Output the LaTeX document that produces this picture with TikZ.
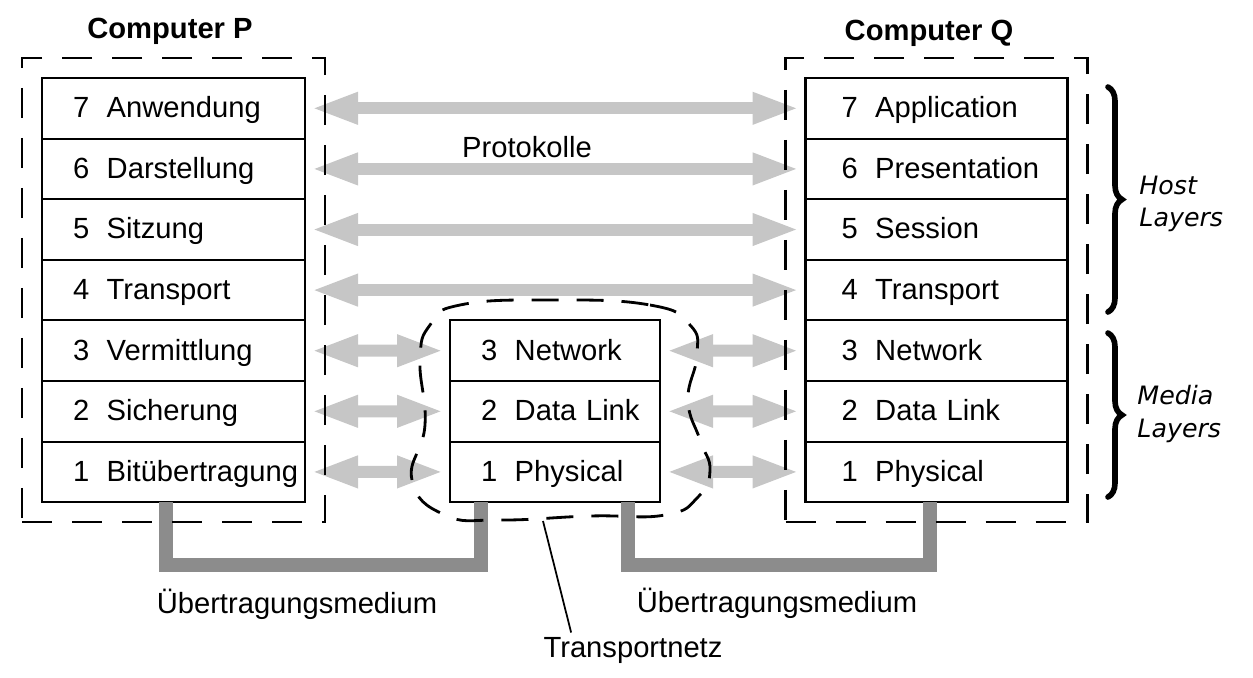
\documentclass[tikz,border=0pt]{standalone}
\usepackage{fontspec}
\setmainfont{Liberation Sans}
\newfontfamily\hostfont{DejaVu Sans}
\usetikzlibrary{positioning, fit, arrows.meta, decorations.pathreplacing}
\tikzset{layer/.style={draw, line width=0.6pt, outer sep=0pt, minimum height=0.606cm, text width=#1, align=left, inner xsep=0.31cm, text height=0.75em, text depth=0.22em, font=\fontsize{8.3}{10}\selectfont}}
\tikzset{qlayer/.style={layer=#1, inner xsep=0.36cm}}
\tikzset{protocol/.style={{Triangle[length=0.47cm, width=0.29cm]}-{Triangle[length=0.47cm, width=0.29cm]}, line width=0.12cm, draw=gray!45, shorten <=0.06cm, shorten >=0.06cm}}
\tikzset{medium/.style={line width=0.14cm, draw=black!45}}
\tikzset{compbox/.style={draw, line width=0.6pt, dash pattern=on 0.3cm off 0.2cm, inner sep=0.2cm}}
\tikzset{netzline/.style={line width=0.8pt, dash pattern=on 0.27cm off 0.18cm}}
\tikzset{txt/.style={font=\fontsize{8.3}{10}\selectfont}}
\tikzset{hostlbl/.style={align=left, anchor=west, font=\hostfont\itshape\fontsize{7.2}{9.2}\selectfont}}
\tikzset{group/.style={line width=1.6pt, line cap=round, decorate, decoration={brace, amplitude=0.14cm}}}
\newcommand{\lay}[2]{\mbox{#1\hspace{0.6em}#2}}

\begin{document}
\begin{tikzpicture}
    \useasboundingbox (0,0) rectangle (12.53,6.77);
    % Computer P
    \node[layer=2.01cm] (p7) at (1.735,5.687) {\lay{7}{Anwendung}};
    \foreach \n/\m/\t in {6/7/Darstellung, 5/6/Sitzung, 4/5/Transport, 3/4/Vermittlung, 2/3/Sicherung, 1/2/Bitübertragung} {
        \node[layer=2.01cm, below=0pt of p\m] (p\n) {\lay{\n}{\t}};
    }
    % Computer Q
    \node[qlayer=1.90cm] (q7) at (9.365,5.687) {\lay{7}{Application}};
    \foreach \n/\m/\t in {6/7/Presentation, 5/6/Session, 4/5/Transport, 3/4/Network, 2/3/Data Link, 1/2/Physical} {
        \node[qlayer=1.90cm, below=0pt of q\m] (q\n) {\lay{\n}{\t}};
    }
    % Transportnetz
    \node[layer=1.48cm] (m3) at (5.55,3.263) {\lay{3}{Network}};
    \node[layer=1.48cm, below=0pt of m3] (m2) {\lay{2}{Data Link}};
    \node[layer=1.48cm, below=0pt of m2] (m1) {\lay{1}{Physical}};

    \foreach \n in {7, 6, 5, 4} {
        \draw[protocol] (p\n) -- (q\n);
    }
    \foreach \n in {3, 2, 1} {
        \draw[protocol] (p\n) -- (m\n);
        \draw[protocol] (m\n) -- (q\n);
    }
    \node[txt] (proto) at (5.27,5.30) {Protokolle};

    \draw[medium] ([xshift=-0.075cm]p1.south) -- ++(0,-0.63) -| ([xshift=0.31cm]m1.south west);
    \draw[medium] ([xshift=-0.32cm]m1.south east) -- ++(0,-0.63) -| ([xshift=-0.065cm]q1.south);
    \node[txt] (medP) at (2.97,0.73) {Übertragungsmedium};
    \node[txt] (medQ) at (7.77,0.74) {Übertragungsmedium};

    \node[compbox, fit=(p7)(p1)] (boxP) {};
    \node[compbox, fit=(q7)(q1)] (boxQ) {};
    \node[txt, font=\fontsize{8.3}{10}\selectfont\bfseries] (compP) at (1.70,6.46) {Computer P};
    \node[txt, font=\fontsize{8.3}{10}\selectfont\bfseries] (compQ) at (9.29,6.44) {Computer Q};

    \draw[netzline] plot[smooth cycle, tension=0.8] coordinates {(5.50,3.77) (6.50,3.72) (6.90,3.52) (6.97,3.22) (6.88,2.77) (7.00,2.37) (7.10,2.07) (6.98,1.80) (6.65,1.62) (5.90,1.61) (5.00,1.57) (4.45,1.62) (4.12,1.97) (4.25,2.52) (4.20,3.17) (4.30,3.52) (4.60,3.72)};
    \coordinate (netzpt) at (5.43,1.56);
    \node[txt] (netz) at (6.33,0.27) {Transportnetz};
    \draw[line width=0.5pt] (netzpt) -- ([xshift=0.4cm, yshift=-0.08cm]netz.north west);

    % layer groups
    \draw[group] (11.08,5.90) -- (11.08,3.65);
    \draw[group] (11.08,3.44) -- (11.08,1.80);
    \node[hostlbl] (host) at (11.27,4.73) {Host\\Layers};
    \node[hostlbl] (media) at (11.25,2.63) {Media\\Layers};
\end{tikzpicture}
\end{document}
